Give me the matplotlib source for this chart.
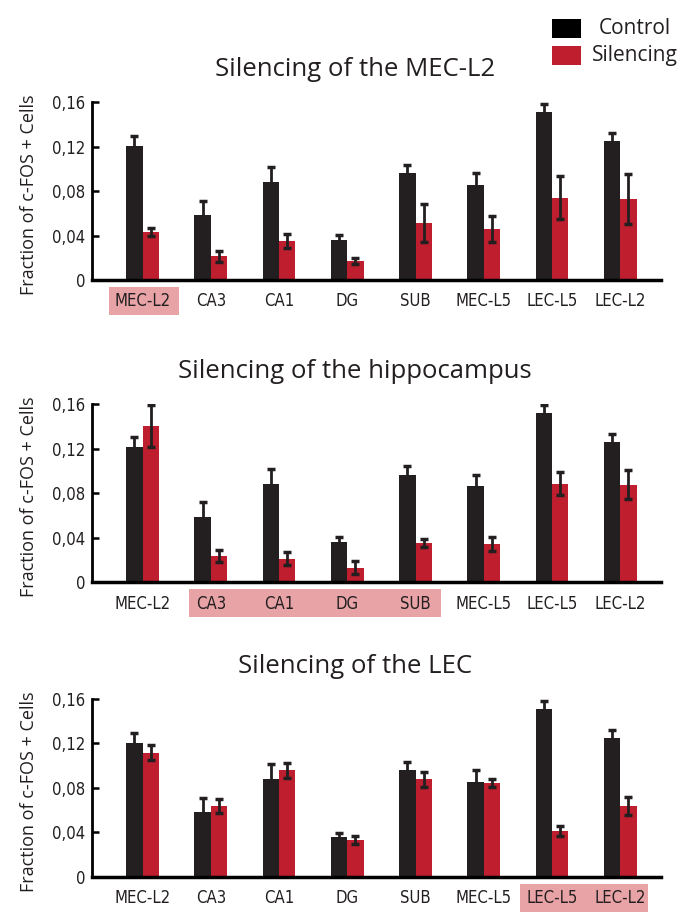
import numpy as np
import matplotlib
matplotlib.use('Agg')
import matplotlib.pyplot as plt
from matplotlib.patches import Rectangle
from matplotlib.transforms import blended_transform_factory

# regions on the x axis
regions = ['MEC-L2', 'CA3', 'CA1', 'DG', 'SUB', 'MEC-L5', 'LEC-L5', 'LEC-L2']
yticks = [0, 0.04, 0.08, 0.12, 0.16]
ytick_labels = ['0', '0,04', '0,08', '0,12', '0,16']

# silencing of MEC-L2
mec_ctrl = [0.1202, 0.0589, 0.0885, 0.0359, 0.0963, 0.0858, 0.1516, 0.1247]
mec_ctrl_err = [0.0090, 0.0126, 0.0130, 0.0042, 0.0069, 0.0105, 0.0069, 0.0078]
mec_sil = [0.0434, 0.0215, 0.0347, 0.0170, 0.0511, 0.0455, 0.0742, 0.0727]
mec_sil_err = [0.0036, 0.0050, 0.0063, 0.0025, 0.0172, 0.0117, 0.0194, 0.0227]

# silencing of the hippocampus
hpc_ctrl = [0.1212, 0.0589, 0.0887, 0.0358, 0.0965, 0.0863, 0.1525, 0.1257]
hpc_ctrl_err = [0.0090, 0.0130, 0.0135, 0.0045, 0.0078, 0.0100, 0.0069, 0.0075]
hpc_sil = [0.1402, 0.0235, 0.0211, 0.0129, 0.0352, 0.0343, 0.0887, 0.0878]
hpc_sil_err = [0.0190, 0.0057, 0.0056, 0.0057, 0.0039, 0.0060, 0.0104, 0.0128]

# silencing of LEC
lec_ctrl = [0.1206, 0.0586, 0.0881, 0.0358, 0.0959, 0.0857, 0.1513, 0.1245]
lec_ctrl_err = [0.0087, 0.0126, 0.0135, 0.0040, 0.0075, 0.0102, 0.0072, 0.0078]
lec_sil = [0.1116, 0.0638, 0.0959, 0.0331, 0.0878, 0.0842, 0.0415, 0.0638]
lec_sil_err = [0.0066, 0.0063, 0.0069, 0.0032, 0.0066, 0.0035, 0.0044, 0.0080]

titles = ['Silencing of the MEC-L2', 'Silencing of the hippocampus', 'Silencing of the LEC']
# silenced regions highlighted under the axis (start, end in group units)
highlights = [(-0.5, 0.53), (0.68, 4.37), (5.53, 7.41)]

ctrl_color = '#231f20'
sil_color = '#be1e2d'
hl_color = '#e8a3a6'
plain = ['Open Sans', 'DejaVu Sans']

fig = plt.figure(figsize=(6.93, 9.21), dpi=100)

panels = [(mec_ctrl, mec_ctrl_err, mec_sil, mec_sil_err),
          (hpc_ctrl, hpc_ctrl_err, hpc_sil, hpc_sil_err),
          (lec_ctrl, lec_ctrl_err, lec_sil, lec_sil_err)]
bottoms = [0.696, 0.368, 0.048]

x = np.arange(len(regions))
w = 0.24
for i, (c, ce, s, se) in enumerate(panels):
    ax = fig.add_axes([0.133, bottoms[i], 0.821, 0.193])
    ekw = dict(ecolor=ctrl_color, elinewidth=2, capsize=3, capthick=2.5)
    ax.bar(x - w / 2, c, w, yerr=ce, color=ctrl_color, error_kw=ekw, zorder=2)
    ax.bar(x + w / 2, s, w, yerr=se, color=sil_color, error_kw=ekw, zorder=2)

    ax.set_xlim(-0.74, 7.6)
    ax.set_ylim(0, 0.16)
    ax.set_yticks(yticks)
    ax.set_yticklabels(ytick_labels, family='DejaVu Sans', stretch='condensed',
                       fontsize=12, color='#231f20')
    ax.set_xticks(x)
    ax.set_xticklabels(regions, family='DejaVu Sans', stretch='condensed',
                       fontsize=12, color='#231f20')
    ax.tick_params(axis='x', length=0, pad=9)
    ax.tick_params(axis='y', direction='in', length=5, width=1.8, pad=5)
    for side in ['top', 'right']:
        ax.spines[side].set_visible(False)
    ax.spines['left'].set_linewidth(2)
    ax.spines['bottom'].set_linewidth(2.5)

    ax.set_ylabel('Fraction of c-FOS + Cells', family=plain, fontsize=13,
                  color='#231f20')
    ax.yaxis.set_label_coords(-0.095, 0.478)
    ax.set_title(titles[i], family=plain, fontsize=18.5, x=0.462, pad=19,
                 color='#231f20')

    trans = blended_transform_factory(ax.transData, ax.transAxes)
    x0, x1 = highlights[i]
    ax.add_patch(Rectangle((x0, -0.197), x1 - x0, 0.157, transform=trans,
                           color=hl_color, clip_on=False, zorder=0.1, lw=0))

# legend
fig.add_artist(Rectangle((552 / 693, 1 - 38 / 921), 29 / 693, 19 / 921,
                         transform=fig.transFigure, color='black', lw=0))
fig.add_artist(Rectangle((552 / 693, 1 - 65 / 921), 29 / 693, 19 / 921,
                         transform=fig.transFigure, color=sil_color, lw=0))
fig.text(635 / 693, 1 - 28 / 921, 'Control', family=plain, fontsize=15,
         ha='center', va='center', color='#231f20')
fig.text(635 / 693, 1 - 55 / 921, 'Silencing', family=plain, fontsize=15,
         ha='center', va='center', color='#231f20')

fig.savefig('out.png', dpi=100)
